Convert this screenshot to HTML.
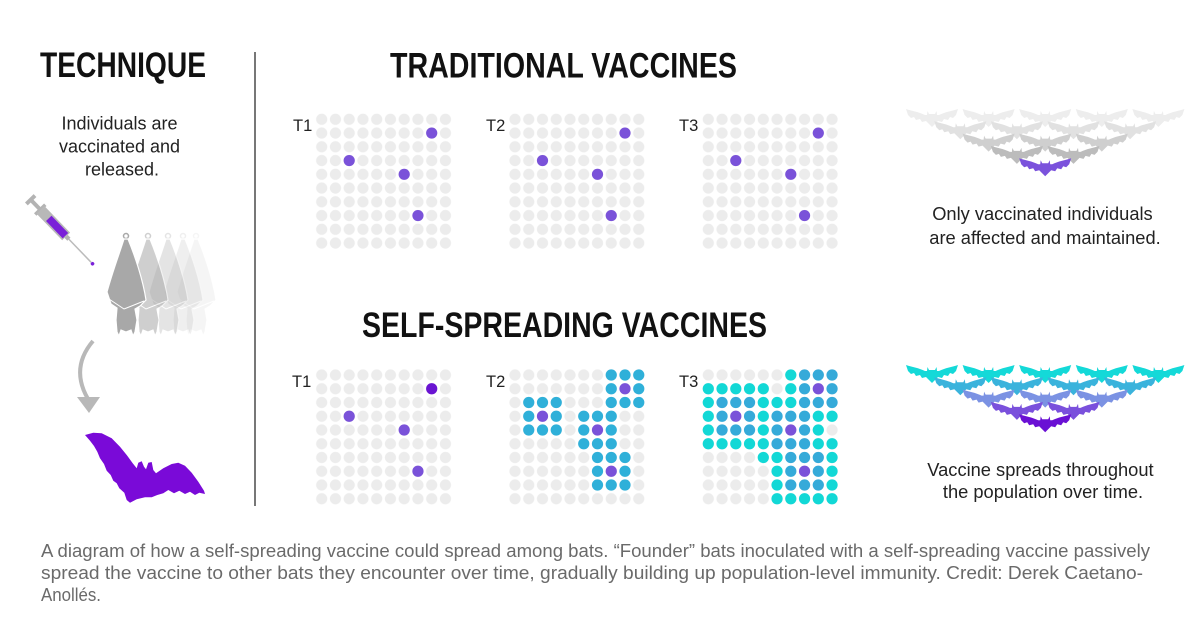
<!DOCTYPE html>
<html>
<head>
<meta charset="utf-8">
<style>
html,body{margin:0;padding:0;background:#fff;}
svg{display:block;}
.h{font-family:"Liberation Sans",Arial,sans-serif;font-weight:bold;fill:#111;}
.t{font-family:"Liberation Sans",Arial,sans-serif;fill:#222;}
.c{font-family:"Liberation Sans",Arial,sans-serif;fill:#6a6a6a;}
</style>
</head>
<body>
<svg width="1200" height="642" viewBox="0 0 1200 642" xmlns="http://www.w3.org/2000/svg">
<defs>
  <pattern id="dots" patternUnits="userSpaceOnUse" x="-6.875" y="-6.875" width="13.75" height="13.75">
    <circle cx="6.875" cy="6.875" r="5.6" fill="#ececec"/>
  </pattern>
  <path id="bat" d="M-26,-8 C-20,-6 -13,-5 -7,-2 L-5,-2 L-4.5,-6 L-3,-3 L3,-3 L4.5,-6 L5,-2 L7,-2 C13,-5 20,-6 26,-8 L24,-2 L21,1 L18,0 L16,3 L12,2 L10,5 L6,4 L3,7 L0,10 L-3,7 L-6,4 L-10,5 L-12,2 L-16,3 L-18,0 L-21,1 L-24,-2 Z"/>
  <g id="hang">
    <circle cx="126" cy="236" r="2.5" fill="none" stroke="currentColor" stroke-width="1.5"/>
    <path fill="currentColor" stroke="#fff" stroke-width="1.2" d="M124,239 L128,239 C135,256 143,280 146,300 L140,306 L135,309 L137,320 L135,332 L133,336 L131,330 L126,332 L121,330 L119,336 L117,332 L116,320 L117,308 L111,304 L107,292 C113,270 120,252 124,239 Z"/>
    <polyline points="109,299 124,309 144,301" fill="none" stroke="#fff" stroke-width="1"/>
  </g>
</defs>

<rect width="1200" height="642" fill="#fff"/>

<!-- Headers -->
<text class="h" x="40" y="77" font-size="35" textLength="166" lengthAdjust="spacingAndGlyphs">TECHNIQUE</text>
<text class="h" x="390" y="77.5" font-size="35" textLength="347" lengthAdjust="spacingAndGlyphs">TRADITIONAL VACCINES</text>
<text class="h" x="362" y="337" font-size="35" textLength="405" lengthAdjust="spacingAndGlyphs">SELF-SPREADING VACCINES</text>

<!-- Divider -->
<line x1="255" y1="52" x2="255" y2="506" stroke="#555" stroke-width="1.6"/>

<!-- Technique text -->
<text class="t" font-size="18" text-anchor="middle">
  <tspan x="122" y="129.5">Individuals are</tspan>
  <tspan x="122" y="152.5">vaccinated and</tspan>
  <tspan x="122" y="175.5">released.</tspan>
</text>

<!-- Syringe -->
<g transform="translate(30,199) rotate(46)">
  <rect x="-1" y="-6" width="4" height="12" fill="#b3b3b3"/>
  <rect x="0" y="-2" width="15" height="4" fill="#b3b3b3"/>
  <rect x="13" y="-7" width="3.5" height="14" fill="#b3b3b3"/>
  <rect x="15" y="-5.5" width="37" height="11" fill="#b8b8b8"/>
  <rect x="27" y="-3.8" width="24" height="7.6" fill="#7a20d8"/>
  <rect x="52" y="-2.2" width="4" height="4.4" fill="#b3b3b3"/>
  <line x1="56" y1="0" x2="88" y2="0" stroke="#bbb" stroke-width="1.5"/>
  <circle cx="90" cy="0" r="1.8" fill="#7a20d8"/>
</g>

<!-- Hanging bats -->
<g color="#a8a8a8">
  <use href="#hang" transform="translate(70,0)" opacity="0.1"/>
  <use href="#hang" transform="translate(57,0)" opacity="0.18"/>
  <use href="#hang" transform="translate(42,0)" opacity="0.3"/>
  <use href="#hang" transform="translate(22,0)" opacity="0.55"/>
  <use href="#hang"/>
</g>

<!-- Arrow -->
<path d="M93,341 Q70,368 88,399" fill="none" stroke="#b8b8b8" stroke-width="4"/>
<polygon points="77,397 100,397 89,413" fill="#b8b8b8"/>

<!-- Purple flying bat -->
<path fill="#7a0ad8" d="M85,435 L93.3,432.7 L101.7,433.3 L111.7,438.3 L120,446.7 L126.7,455 L132.7,463.3 L136.7,468.3 L138.3,462.7 L141.7,461.3 L144,466.7 L146,469.3 L148.3,462.7 L151.7,462 L153.3,470 L156,473.3 L163.3,468.3 L171.7,464 L178.3,462.7 L185,465.7 L191.7,472.7 L198.3,481.7 L204,490.7 L205,494 L199.3,492.7 L195,495 L190,491.7 L185,494 L179.3,490.7 L174,493.3 L168.3,490 L163.3,493.3 L157.3,495 L151.7,497.3 L145,497.3 L136.7,499.3 L130,502.7 L126.7,500 L124.3,492.7 L119.3,488.3 L116.7,483.3 L113.3,480.7 L110.7,475 L106.7,470.7 L104,464 L100,458.3 L97.3,451.7 L94,446 L90,440.7 Z"/>

<!-- Grid labels -->
<g class="t" font-size="16.5">
  <text x="293" y="131">T1</text>
  <text x="486" y="131">T2</text>
  <text x="679" y="131">T3</text>
  <text x="292" y="387">T1</text>
  <text x="486" y="387">T2</text>
  <text x="679" y="387">T3</text>
</g>

<!-- Traditional grids -->
<g transform="translate(321.7,119.3)">
  <rect x="-6.875" y="-6.875" width="137.5" height="137.5" fill="url(#dots)"/>
  <g fill="#7a52d9">
    <circle cx="110" cy="13.75" r="5.6"/><circle cx="27.5" cy="41.25" r="5.6"/><circle cx="82.5" cy="55" r="5.6"/><circle cx="96.25" cy="96.25" r="5.6"/>
  </g>
</g>
<g transform="translate(515,119.3)">
  <rect x="-6.875" y="-6.875" width="137.5" height="137.5" fill="url(#dots)"/>
  <g fill="#7a52d9">
    <circle cx="110" cy="13.75" r="5.6"/><circle cx="27.5" cy="41.25" r="5.6"/><circle cx="82.5" cy="55" r="5.6"/><circle cx="96.25" cy="96.25" r="5.6"/>
  </g>
</g>
<g transform="translate(708.3,119.3)">
  <rect x="-6.875" y="-6.875" width="137.5" height="137.5" fill="url(#dots)"/>
  <g fill="#7a52d9">
    <circle cx="110" cy="13.75" r="5.6"/><circle cx="27.5" cy="41.25" r="5.6"/><circle cx="82.5" cy="55" r="5.6"/><circle cx="96.25" cy="96.25" r="5.6"/>
  </g>
</g>

<!-- Self-spreading T1 -->
<g transform="translate(321.7,375)">
  <rect x="-6.875" y="-6.875" width="137.5" height="137.5" fill="url(#dots)"/>
  <circle cx="110" cy="13.75" r="5.6" fill="#6a14d2"/>
  <g fill="#7a52d9">
    <circle cx="27.5" cy="41.25" r="5.6"/><circle cx="82.5" cy="55" r="5.6"/><circle cx="96.25" cy="96.25" r="5.6"/>
  </g>
</g>

<!-- Self-spreading T2 -->
<g transform="translate(515,375)">
  <rect x="-6.875" y="-6.875" width="137.5" height="137.5" fill="url(#dots)"/>
  <g fill="#2fb0d9">
    <circle cx="96.25" cy="0" r="5.6"/><circle cx="110" cy="0" r="5.6"/><circle cx="123.75" cy="0" r="5.6"/>
    <circle cx="96.25" cy="13.75" r="5.6"/><circle cx="123.75" cy="13.75" r="5.6"/>
    <circle cx="13.75" cy="27.5" r="5.6"/><circle cx="27.5" cy="27.5" r="5.6"/><circle cx="41.25" cy="27.5" r="5.6"/><circle cx="96.25" cy="27.5" r="5.6"/><circle cx="110" cy="27.5" r="5.6"/><circle cx="123.75" cy="27.5" r="5.6"/>
    <circle cx="13.75" cy="41.25" r="5.6"/><circle cx="41.25" cy="41.25" r="5.6"/><circle cx="68.75" cy="41.25" r="5.6"/><circle cx="82.5" cy="41.25" r="5.6"/><circle cx="96.25" cy="41.25" r="5.6"/>
    <circle cx="13.75" cy="55" r="5.6"/><circle cx="27.5" cy="55" r="5.6"/><circle cx="41.25" cy="55" r="5.6"/><circle cx="68.75" cy="55" r="5.6"/><circle cx="96.25" cy="55" r="5.6"/>
    <circle cx="68.75" cy="68.75" r="5.6"/><circle cx="82.5" cy="68.75" r="5.6"/><circle cx="96.25" cy="68.75" r="5.6"/>
    <circle cx="82.5" cy="82.5" r="5.6"/><circle cx="96.25" cy="82.5" r="5.6"/><circle cx="110" cy="82.5" r="5.6"/>
    <circle cx="82.5" cy="96.25" r="5.6"/><circle cx="110" cy="96.25" r="5.6"/>
    <circle cx="82.5" cy="110" r="5.6"/><circle cx="96.25" cy="110" r="5.6"/><circle cx="110" cy="110" r="5.6"/>
  </g>
  <g fill="#7a52d9">
    <circle cx="110" cy="13.75" r="5.6"/><circle cx="27.5" cy="41.25" r="5.6"/><circle cx="82.5" cy="55" r="5.6"/><circle cx="96.25" cy="96.25" r="5.6"/>
  </g>
</g>

<!-- Self-spreading T3 -->
<g transform="translate(708.3,375)">
  <rect x="-6.875" y="-6.875" width="137.5" height="137.5" fill="url(#dots)"/>
  <g fill="#35aad9">
    <circle cx="96.25" cy="0" r="5.6"/><circle cx="110" cy="0" r="5.6"/><circle cx="123.75" cy="0" r="5.6"/>
    <circle cx="96.25" cy="13.75" r="5.6"/><circle cx="123.75" cy="13.75" r="5.6"/>
    <circle cx="13.75" cy="27.5" r="5.6"/><circle cx="27.5" cy="27.5" r="5.6"/><circle cx="41.25" cy="27.5" r="5.6"/><circle cx="96.25" cy="27.5" r="5.6"/><circle cx="110" cy="27.5" r="5.6"/><circle cx="123.75" cy="27.5" r="5.6"/>
    <circle cx="13.75" cy="41.25" r="5.6"/><circle cx="41.25" cy="41.25" r="5.6"/><circle cx="68.75" cy="41.25" r="5.6"/><circle cx="82.5" cy="41.25" r="5.6"/><circle cx="96.25" cy="41.25" r="5.6"/>
    <circle cx="13.75" cy="55" r="5.6"/><circle cx="27.5" cy="55" r="5.6"/><circle cx="41.25" cy="55" r="5.6"/><circle cx="68.75" cy="55" r="5.6"/><circle cx="96.25" cy="55" r="5.6"/>
    <circle cx="68.75" cy="68.75" r="5.6"/><circle cx="82.5" cy="68.75" r="5.6"/><circle cx="96.25" cy="68.75" r="5.6"/>
    <circle cx="82.5" cy="82.5" r="5.6"/><circle cx="96.25" cy="82.5" r="5.6"/><circle cx="110" cy="82.5" r="5.6"/>
    <circle cx="82.5" cy="96.25" r="5.6"/><circle cx="110" cy="96.25" r="5.6"/>
    <circle cx="82.5" cy="110" r="5.6"/><circle cx="96.25" cy="110" r="5.6"/><circle cx="110" cy="110" r="5.6"/>
  </g>
  <g fill="#12d8d6">
    <circle cx="82.5" cy="0" r="5.6"/>
    <circle cx="0" cy="13.75" r="5.6"/><circle cx="13.75" cy="13.75" r="5.6"/><circle cx="27.5" cy="13.75" r="5.6"/><circle cx="41.25" cy="13.75" r="5.6"/><circle cx="55" cy="13.75" r="5.6"/><circle cx="82.5" cy="13.75" r="5.6"/>
    <circle cx="0" cy="27.5" r="5.6"/><circle cx="55" cy="27.5" r="5.6"/><circle cx="68.75" cy="27.5" r="5.6"/><circle cx="82.5" cy="27.5" r="5.6"/>
    <circle cx="0" cy="41.25" r="5.6"/><circle cx="55" cy="41.25" r="5.6"/><circle cx="110" cy="41.25" r="5.6"/><circle cx="123.75" cy="41.25" r="5.6"/>
    <circle cx="0" cy="55" r="5.6"/><circle cx="55" cy="55" r="5.6"/><circle cx="110" cy="55" r="5.6"/>
    <circle cx="0" cy="68.75" r="5.6"/><circle cx="13.75" cy="68.75" r="5.6"/><circle cx="27.5" cy="68.75" r="5.6"/><circle cx="41.25" cy="68.75" r="5.6"/><circle cx="55" cy="68.75" r="5.6"/><circle cx="110" cy="68.75" r="5.6"/><circle cx="123.75" cy="68.75" r="5.6"/>
    <circle cx="55" cy="82.5" r="5.6"/><circle cx="68.75" cy="82.5" r="5.6"/><circle cx="123.75" cy="82.5" r="5.6"/>
    <circle cx="68.75" cy="96.25" r="5.6"/><circle cx="123.75" cy="96.25" r="5.6"/>
    <circle cx="68.75" cy="110" r="5.6"/><circle cx="123.75" cy="110" r="5.6"/>
    <circle cx="68.75" cy="123.75" r="5.6"/><circle cx="82.5" cy="123.75" r="5.6"/><circle cx="96.25" cy="123.75" r="5.6"/><circle cx="110" cy="123.75" r="5.6"/><circle cx="123.75" cy="123.75" r="5.6"/>
  </g>
  <g fill="#7a52d9">
    <circle cx="110" cy="13.75" r="5.6"/><circle cx="27.5" cy="41.25" r="5.6"/><circle cx="82.5" cy="55" r="5.6"/><circle cx="96.25" cy="96.25" r="5.6"/>
  </g>
</g>

<!-- Traditional bat pyramid -->
<g fill="#ededed">
  <use href="#bat" x="932" y="117"/><use href="#bat" x="988.6" y="117"/><use href="#bat" x="1045.2" y="117"/><use href="#bat" x="1101.8" y="117"/><use href="#bat" x="1158.4" y="117"/>
</g>
<g fill="#e1e1e1">
  <use href="#bat" x="960.3" y="129.3"/><use href="#bat" x="1016.9" y="129.3"/><use href="#bat" x="1073.5" y="129.3"/><use href="#bat" x="1130.1" y="129.3"/>
</g>
<g fill="#cfcfcf">
  <use href="#bat" x="988.6" y="141.6"/><use href="#bat" x="1045.2" y="141.6"/><use href="#bat" x="1101.8" y="141.6"/>
</g>
<g fill="#bcbcbc">
  <use href="#bat" x="1016.9" y="153.9"/><use href="#bat" x="1073.5" y="153.9"/>
</g>
<use href="#bat" x="1045.2" y="166.2" fill="#7b52dc"/>

<text class="t" font-size="18.3" text-anchor="middle">
  <tspan x="1045" y="220">Only vaccinated individuals</tspan>
  <tspan x="1045" y="244">are affected and maintained.</tspan>
</text>

<!-- Self-spreading bat pyramid -->
<g fill="#14d9d8">
  <use href="#bat" x="932" y="373"/><use href="#bat" x="988.6" y="373"/><use href="#bat" x="1045.2" y="373"/><use href="#bat" x="1101.8" y="373"/><use href="#bat" x="1158.4" y="373"/>
</g>
<g fill="#3ab3dc">
  <use href="#bat" x="960.3" y="385.3"/><use href="#bat" x="1016.9" y="385.3"/><use href="#bat" x="1073.5" y="385.3"/><use href="#bat" x="1130.1" y="385.3"/>
</g>
<g fill="#7b92e3">
  <use href="#bat" x="988.6" y="397.6"/><use href="#bat" x="1045.2" y="397.6"/><use href="#bat" x="1101.8" y="397.6"/>
</g>
<g fill="#7a50dc">
  <use href="#bat" x="1016.9" y="409.9"/><use href="#bat" x="1073.5" y="409.9"/>
</g>
<use href="#bat" x="1045.2" y="422.2" fill="#6a10d4"/>

<text class="t" font-size="18.3" text-anchor="middle">
  <tspan x="1043" y="476">Vaccine spreads throughout</tspan>
  <tspan x="1043" y="498">the population over time.</tspan>
</text>

<!-- Caption -->
<text class="c" font-size="18" x="41" y="557" textLength="1109" lengthAdjust="spacingAndGlyphs">A diagram of how a self-spreading vaccine could spread among bats. “Founder” bats inoculated with a self-spreading vaccine passively</text>
<text class="c" font-size="18" x="41" y="579" textLength="1102" lengthAdjust="spacingAndGlyphs">spread the vaccine to other bats they encounter over time, gradually building up population-level immunity. Credit: Derek Caetano-</text>
<text class="c" font-size="18" x="41" y="601" textLength="60" lengthAdjust="spacingAndGlyphs">Anollés.</text>
</svg>
</body>
</html>
